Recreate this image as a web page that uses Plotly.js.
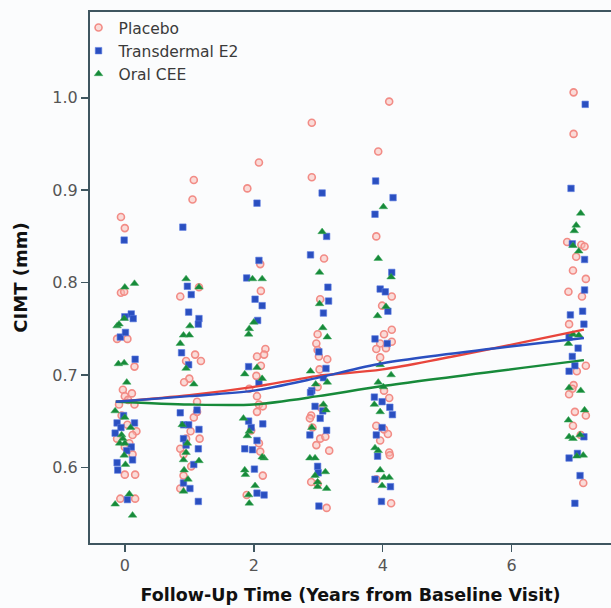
<!DOCTYPE html>
<html>
<head>
<meta charset="utf-8">
<script src="https://cdn.plot.ly/plotly-3.0.1.min.js"></script>
<style>html,body{margin:0;padding:0;background:#fbfcfd;}#chart{width:611px;height:608px;}</style>
</head>
<body>
<div id="chart"></div>
<script>
// Placebo (x = follow-up year with jitter, y = CIMT mm)
const placeboX = [-0.06,0.00,-0.06,-0.01,-0.12,0.04,0.15,-0.03,0.11,0.00,0.05,-0.09,0.15,-0.05,0.04,0.18,0.12,-0.12,0.07,0.00,0.12,0.00,0.16,-0.07,0.16,
  1.07,1.05,0.86,1.15,1.09,1.18,0.95,1.00,0.92,1.12,1.07,1.16,0.95,0.86,0.91,1.03,0.91,0.86,1.02,1.12,
  2.08,1.90,2.10,2.11,2.18,2.16,2.05,2.11,2.04,1.93,2.05,2.08,2.14,1.96,2.08,2.10,2.14,1.89,2.05,
  2.90,2.90,3.09,3.03,2.99,2.97,2.99,3.14,3.01,3.02,2.99,2.89,2.87,2.91,3.03,3.11,3.17,2.97,2.99,2.89,3.13,3.05,
  4.10,3.93,3.90,3.99,4.14,4.14,4.02,4.14,3.96,3.90,4.05,3.96,4.02,4.10,3.90,4.02,4.08,3.96,4.10,4.11,3.90,4.13,
  6.96,6.96,6.86,7.08,7.13,7.00,6.95,7.15,6.88,7.09,6.89,7.15,7.01,6.96,6.94,6.89,6.98,6.95,7.07,7.15,7.11];
const placeboY = [0.871,0.859,0.789,0.790,0.739,0.739,0.709,0.684,0.680,0.677,0.673,0.668,0.668,0.656,0.646,0.639,0.635,0.631,0.626,0.622,0.614,0.592,0.592,0.566,0.566,
  0.911,0.890,0.785,0.795,0.722,0.715,0.715,0.696,0.692,0.671,0.654,0.631,0.631,0.620,0.614,0.601,0.591,0.577,0.639,0.660,
  0.930,0.902,0.820,0.791,0.728,0.722,0.720,0.710,0.699,0.685,0.677,0.668,0.666,0.640,0.626,0.617,0.591,0.570,0.660,
  0.973,0.914,0.826,0.782,0.744,0.734,0.727,0.717,0.720,0.706,0.687,0.656,0.653,0.643,0.631,0.633,0.618,0.624,0.582,0.584,0.556,0.664,
  0.996,0.942,0.850,0.775,0.785,0.749,0.744,0.736,0.734,0.728,0.729,0.719,0.683,0.675,0.645,0.641,0.636,0.629,0.616,0.613,0.587,0.561,
  1.006,0.961,0.844,0.841,0.839,0.828,0.813,0.804,0.790,0.785,0.755,0.710,0.704,0.689,0.685,0.679,0.660,0.645,0.635,0.656,0.583];

// Transdermal E2
const e2X = [-0.01,-0.07,0.01,0.10,0.13,0.00,0.16,-0.02,-0.12,0.15,-0.06,-0.15,0.10,0.03,0.12,-0.12,-0.11,0.04,
  0.90,0.97,1.03,0.99,1.15,1.14,0.88,0.99,0.86,1.12,0.91,0.99,1.15,0.91,0.95,1.14,1.07,0.91,1.01,1.14,
  2.05,2.08,1.89,2.02,2.13,2.06,1.92,2.08,1.92,2.14,1.96,2.05,1.86,1.98,2.01,2.05,2.16,
  3.06,3.13,2.88,3.15,3.16,3.08,3.01,3.12,3.08,2.90,2.88,2.95,3.07,3.03,3.13,2.87,2.99,3.00,3.01,
  3.89,4.16,3.88,4.14,3.96,4.04,4.08,3.88,4.07,3.87,3.99,4.11,4.15,3.99,3.90,3.92,3.88,4.12,3.98,
  7.14,6.92,6.94,7.13,7.13,7.10,6.91,7.12,6.89,7.03,6.94,6.98,6.89,7.12,7.02,6.89,7.06,6.98];
const e2Y = [0.846,0.741,0.746,0.766,0.761,0.763,0.717,0.656,0.648,0.648,0.643,0.637,0.622,0.618,0.608,0.605,0.597,0.565,
  0.860,0.796,0.787,0.768,0.761,0.755,0.724,0.711,0.659,0.662,0.646,0.646,0.641,0.631,0.624,0.620,0.603,0.583,0.577,0.563,
  0.886,0.824,0.805,0.782,0.775,0.759,0.709,0.691,0.650,0.647,0.643,0.629,0.620,0.619,0.598,0.572,0.570,
  0.897,0.850,0.830,0.795,0.780,0.767,0.725,0.707,0.697,0.683,0.681,0.666,0.661,0.653,0.640,0.635,0.601,0.594,0.558,
  0.910,0.892,0.874,0.811,0.793,0.790,0.769,0.739,0.734,0.676,0.671,0.665,0.657,0.643,0.635,0.612,0.587,0.579,0.563,
  0.993,0.902,0.842,0.825,0.792,0.769,0.765,0.755,0.741,0.729,0.720,0.710,0.704,0.633,0.615,0.610,0.591,0.561];

// Oral CEE
const ceeX = [0.00,0.15,-0.12,-0.09,-0.01,-0.10,-0.01,0.03,-0.15,0.00,-0.05,-0.08,0.00,0.09,-0.03,-0.01,0.01,0.07,-0.15,0.12,
  0.95,1.15,1.01,0.91,1.00,0.86,0.95,1.07,0.89,0.97,0.95,0.91,1.15,0.92,0.98,0.91,
  1.98,2.13,2.00,1.93,1.92,1.86,2.13,2.05,1.84,1.93,1.90,2.16,2.13,1.86,1.87,2.02,1.92,1.93,
  3.06,3.02,3.02,3.07,3.14,2.88,3.14,2.96,3.12,3.08,2.90,2.87,2.95,2.95,3.11,2.99,2.99,3.13,
  4.01,3.93,4.13,4.05,3.92,3.96,3.93,4.01,4.13,3.87,3.96,3.88,3.93,3.96,4.02,4.10,3.99,
  7.07,7.00,6.97,7.04,6.95,6.95,7.04,6.88,6.89,7.07,7.13,6.88,6.89,6.95,7.06,7.11,7.01];
const ceeY = [0.795,0.799,0.753,0.755,0.761,0.712,0.713,0.692,0.661,0.654,0.635,0.626,0.626,0.643,0.631,0.613,0.603,0.571,0.560,0.548,
  0.804,0.795,0.753,0.743,0.743,0.734,0.707,0.690,0.646,0.626,0.616,0.608,0.607,0.597,0.587,0.574,
  0.804,0.804,0.757,0.750,0.744,0.701,0.696,0.708,0.653,0.639,0.634,0.610,0.611,0.597,0.592,0.580,0.570,0.561,
  0.855,0.811,0.777,0.751,0.741,0.704,0.692,0.690,0.662,0.668,0.643,0.610,0.610,0.591,0.595,0.584,0.579,0.577,
  0.882,0.826,0.806,0.774,0.764,0.711,0.692,0.687,0.700,0.668,0.660,0.621,0.618,0.597,0.589,0.589,0.580,
  0.875,0.862,0.856,0.834,0.840,0.744,0.743,0.734,0.686,0.683,0.662,0.651,0.633,0.631,0.635,0.613,0.612];

// Smoothed trend lines
const trendX = [-0.14, 1, 2, 3, 4, 7.12];
const trendPlacebo = [0.671, 0.678, 0.687, 0.699, 0.706, 0.749];
const trendE2 = [0.671, 0.677, 0.683, 0.697, 0.7126, 0.740];
const trendCEE = [0.671, 0.668, 0.668, 0.677, 0.688, 0.716];

const groupNames = ['Placebo', 'Transdermal E2', 'Oral CEE'];
const xTickVals = [0, 2, 4, 6];
const yTickVals = [0.6, 0.7, 0.8, 0.9, 1.0];

const cBlue = '#2a4fc0', cGreen = '#178a3a';

const traces = [
  {x: placeboX, y: placeboY, type: 'scatter', mode: 'markers', name: groupNames[0],
   marker: {symbol: 'circle', size: 7, color: 'rgba(250,185,180,0.5)', line: {color: '#f28c86', width: 1.6}}},
  {x: e2X, y: e2Y, type: 'scatter', mode: 'markers', name: groupNames[1],
   marker: {symbol: 'square', size: 6.5, color: cBlue, line: {color: '#5a7be0', width: 0.6}}},
  {x: ceeX, y: ceeY, type: 'scatter', mode: 'markers', name: groupNames[2],
   marker: {symbol: 'triangle-up', size: 7.5, color: cGreen, line: {color: '#3aa85a', width: 0.5}}},
  {x: trendX, y: trendPlacebo, type: 'scatter', mode: 'lines', showlegend: false, hoverinfo: 'skip',
   line: {color: '#e8453c', width: 2.4, shape: 'spline', smoothing: 0.8}},
  {x: trendX, y: trendCEE, type: 'scatter', mode: 'lines', showlegend: false, hoverinfo: 'skip',
   line: {color: cGreen, width: 2.4, shape: 'spline', smoothing: 0.8}},
  {x: trendX, y: trendE2, type: 'scatter', mode: 'lines', showlegend: false, hoverinfo: 'skip',
   line: {color: cBlue, width: 2.4, shape: 'spline', smoothing: 0.8}}
];

const axisColor = '#3f5660';
const layout = {
  width: 611, height: 608,
  margin: {l: 90, r: 0, t: 12, b: 65},
  paper_bgcolor: '#fbfcfd', plot_bgcolor: '#fbfcfd',
  font: {family: 'DejaVu Sans, sans-serif', size: 15, color: '#555'},
  showlegend: true,
  legend: {x: -0.022, y: 1.002, xanchor: 'left', yanchor: 'top', bgcolor: 'rgba(0,0,0,0)',
           font: {size: 15.5, color: '#3a3a3a'}, tracegroupgap: 0, itemwidth: 30},
  xaxis: {range: [-0.54, 7.54], tickvals: xTickVals, ticktext: xTickVals.map(String),
          showgrid: false, zeroline: false, showline: true, linecolor: axisColor, linewidth: 2, mirror: true,
          ticks: 'outside', ticklen: 7, tickwidth: 1.5, tickcolor: axisColor,
          tickfont: {size: 16, color: '#555'},
          title: {text: 'Follow-Up Time (Years from Baseline Visit)', standoff: 15,
                  font: {size: 17.5, color: '#111', family: 'DejaVu Sans, sans-serif', weight: 'bold'}}},
  yaxis: {range: [0.518, 1.093], tickvals: yTickVals, ticktext: yTickVals.map(v => v.toFixed(1)),
          showgrid: false, zeroline: false, showline: true, linecolor: axisColor, linewidth: 2, mirror: true,
          ticks: 'outside', ticklen: 7, tickwidth: 1.5, tickcolor: axisColor,
          tickfont: {size: 16, color: '#555'},
          title: {text: 'CIMT (mm)', standoff: 20,
                  font: {size: 18, color: '#111', family: 'DejaVu Sans, sans-serif', weight: 'bold'}}}
};

Plotly.newPlot('chart', traces, layout, {displayModeBar: false, staticPlot: true});
</script>
</body>
</html>
